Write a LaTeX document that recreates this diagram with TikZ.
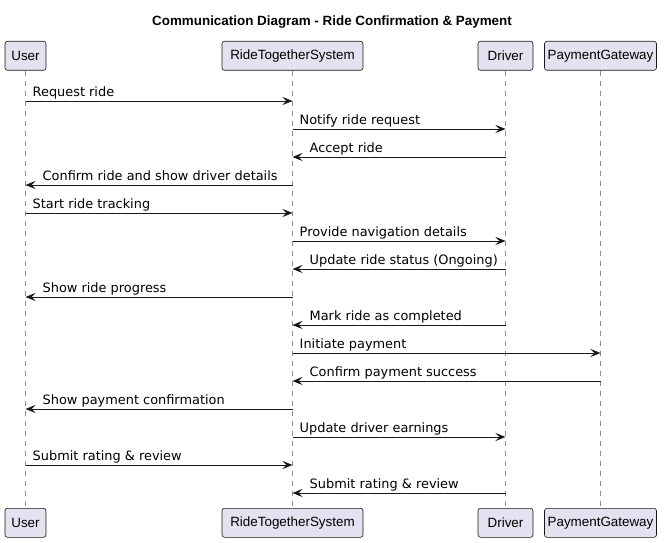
\documentclass[tikz,border=0pt]{standalone}
\usepackage{fontspec}
\setmainfont{DejaVu Sans}
\newfontfamily\partfont{Liberation Sans}
\usetikzlibrary{arrows.meta}
\definecolor{partfill}{HTML}{E2E2F0}
\definecolor{partline}{HTML}{181818}

\begin{document}
\begin{tikzpicture}[x=1pt,y=-1pt,
	part/.style={draw=partline,fill=partfill,rounded corners=2.5pt,line width=0.6pt,
		font=\partfont\fontsize{13.4}{15}\selectfont,minimum height=29pt,inner sep=0pt,anchor=north},
	life/.style={draw=black!45,line width=0.8pt,dash pattern=on 5pt off 5pt},
	msg/.style={draw=partline,line width=0.9pt,-{Stealth[length=10pt,width=8pt,inset=4pt]}},
	lbl/.style={font=\fontsize{12.9}{15}\selectfont,anchor=base west,inner sep=0pt}]
	\useasboundingbox (0,0) rectangle (664,543);
	\node[font=\partfont\bfseries\fontsize{13.4}{15}\selectfont] (title) at (332,22) {Communication Diagram - Ride Confirmation \& Payment};
	\node[part,minimum width=41pt] (userT) at (25.5,41) {User};
	\node[part,minimum width=141pt] (sysT) at (292.5,41) {RideTogetherSystem};
	\node[part,minimum width=55pt] (drvT) at (505.5,41) {Driver};
	\node[part,minimum width=112pt] (payT) at (600.5,41) {PaymentGateway};
	\node[part,minimum width=41pt] (userB) at (25.5,508) {User};
	\node[part,minimum width=141pt] (sysB) at (292.5,508) {RideTogetherSystem};
	\node[part,minimum width=55pt] (drvB) at (505.5,508) {Driver};
	\node[part,minimum width=112pt] (payB) at (600.5,508) {PaymentGateway};
	\draw[life] (userT) -- (userB);
	\draw[life] (sysT) -- (sysB);
	\draw[life] (drvT) -- (drvB);
	\draw[life] (payT) -- (payB);
	\draw[msg] (userT.south |- 0,101) -- (sysT.south |- 0,101);
	\node[lbl,xshift=7pt] (m1) at (userT.south |- 0,96.5) {Request ride};
	\draw[msg] (sysT.south |- 0,129) -- (drvT.south |- 0,129);
	\node[lbl,xshift=7pt] (m2) at (sysT.south |- 0,124.5) {Notify ride request};
	\draw[msg] (drvT.south |- 0,157) -- (sysT.south |- 0,157);
	\node[lbl,xshift=17pt] (m3) at (sysT.south |- 0,152.5) {Accept ride};
	\draw[msg] (sysT.south |- 0,185) -- (userT.south |- 0,185);
	\node[lbl,xshift=17pt] (m4) at (userT.south |- 0,180.5) {Confirm ride and show driver details};
	\draw[msg] (userT.south |- 0,213) -- (sysT.south |- 0,213);
	\node[lbl,xshift=7pt] (m5) at (userT.south |- 0,208.5) {Start ride tracking};
	\draw[msg] (sysT.south |- 0,241) -- (drvT.south |- 0,241);
	\node[lbl,xshift=7pt] (m6) at (sysT.south |- 0,236.5) {Provide navigation details};
	\draw[msg] (drvT.south |- 0,269) -- (sysT.south |- 0,269);
	\node[lbl,xshift=17pt] (m7) at (sysT.south |- 0,264.5) {Update ride status (Ongoing)};
	\draw[msg] (sysT.south |- 0,297) -- (userT.south |- 0,297);
	\node[lbl,xshift=17pt] (m8) at (userT.south |- 0,292.5) {Show ride progress};
	\draw[msg] (drvT.south |- 0,325) -- (sysT.south |- 0,325);
	\node[lbl,xshift=17pt] (m9) at (sysT.south |- 0,320.5) {Mark ride as completed};
	\draw[msg] (sysT.south |- 0,353) -- (payT.south |- 0,353);
	\node[lbl,xshift=7pt] (m10) at (sysT.south |- 0,348.5) {Initiate payment};
	\draw[msg] (payT.south |- 0,381) -- (sysT.south |- 0,381);
	\node[lbl,xshift=17pt] (m11) at (sysT.south |- 0,376.5) {Confirm payment success};
	\draw[msg] (sysT.south |- 0,409) -- (userT.south |- 0,409);
	\node[lbl,xshift=17pt] (m12) at (userT.south |- 0,404.5) {Show payment confirmation};
	\draw[msg] (sysT.south |- 0,437) -- (drvT.south |- 0,437);
	\node[lbl,xshift=7pt] (m13) at (sysT.south |- 0,432.5) {Update driver earnings};
	\draw[msg] (userT.south |- 0,465) -- (sysT.south |- 0,465);
	\node[lbl,xshift=7pt] (m14) at (userT.south |- 0,460.5) {Submit rating \& review};
	\draw[msg] (drvT.south |- 0,493) -- (sysT.south |- 0,493);
	\node[lbl,xshift=17pt] (m15) at (sysT.south |- 0,488.5) {Submit rating \& review};
\end{tikzpicture}
\end{document}
